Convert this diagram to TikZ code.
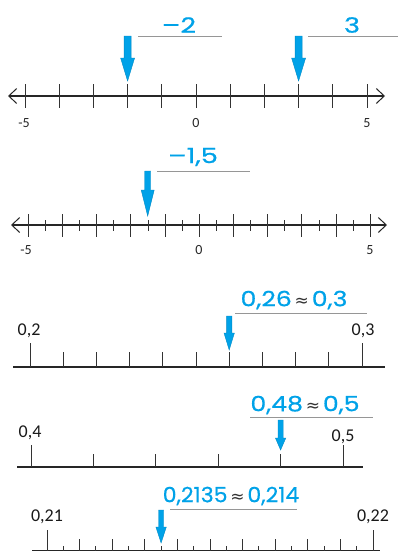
\documentclass[tikz,border=0pt]{standalone}
\usepackage{fontspec}
\setmainfont{Carlito}
\newfontfamily\handfont{Poppins}[FakeBold=0.6]
\newfontfamily\symfont{DejaVu Sans}
\usepackage{tikz}
\usetikzlibrary{arrows.meta}
\definecolor{paintblue}{RGB}{0,162,232}
\definecolor{rulegray}{RGB}{150,150,150}
\tikzset{
  axis/.style={line width=1.2pt, black!85},
  axisarr/.style={axis, {Straight Barb[length=8pt,width=15pt,line width=1pt]}-{Straight Barb[length=8pt,width=15pt,line width=1pt]}},
  tick/.style={line width=0.9pt, black!80},
  num/.style={font=\fontsize{14}{14}\selectfont, text=black!85, inner sep=0pt},
  dec/.style={font=\fontsize{18}{18}\selectfont, text=black!90, inner sep=0pt},
  hand/.style={font=\handfont\fontsize{21}{21}\selectfont, text=paintblue, inner sep=0pt},
  underl/.style={line width=1pt, rulegray},
}
% down arrow: x, top, head start, tip, half shaft, half head
\newcommand{\pointer}[6]{\fill[paintblue, draw=paintblue!85!black, line width=0.4pt]
  (#1-#5,#2) -- (#1+#5,#2) -- (#1+#5,#3) -- (#1+#6,#3) -- (#1,#4) -- (#1-#6,#3) -- (#1-#5,#3) -- cycle;}
\newcommand{\approxsign}{{\symfont\color{black!80}\fontsize{17}{17}\selectfont\,≈\,}}

\begin{document}
\begin{tikzpicture}[x=1pt, y=-1pt]
\useasboundingbox (0,0) rectangle (398,552);

% line 1: integers
\coordinate (l1a) at (8,96);
\coordinate (l1b) at (385,96);
\draw[axisarr] (l1a) -- (l1b);
\foreach \i in {0,...,10} \draw[tick] (25+34.2*\i,84) -- (25+34.2*\i,108);
\node[num] (m5a) at (24,123) {-5};
\node[num] (z0a) at (196,123) {0};
\node[num] (p5a) at (367,123) {5};
\pointer{127.6}{36}{58}{81}{3.5}{7}
\pointer{298.6}{36}{58}{81}{3.5}{7}
\node[hand] (vm2) at (179,25) {\scalebox{1.3}[1]{–2}};
\draw[underl] (138,36) -- (222,36);
\node[hand] (v3) at (352,25) {\scalebox{1.3}[1]{3}};
\draw[underl] (308,36) -- (398,36);

% line 2: halves
\coordinate (l2a) at (11,225);
\coordinate (l2b) at (387,225);
\draw[axisarr] (l2a) -- (l2b);
\foreach \i in {0,...,10} \draw[tick] (28.3+34.2*\i,214) -- (28.3+34.2*\i,237);
\foreach \i in {0,...,9} \draw[tick] (45.4+34.2*\i,220) -- (45.4+34.2*\i,231);
\node[num] (m5b) at (26,250) {-5};
\node[num] (z0b) at (199,250) {0};
\node[num] (p5b) at (370,250) {5};
\pointer{147.7}{171}{190}{216}{3}{6.5}
\node[hand] (vm15) at (193,157) {\scalebox{1.3}[1]{–1,5}};
\draw[underl] (157,171) -- (250,171);

% line 3: hundredths
\coordinate (l3a) at (13,367);
\coordinate (l3b) at (385,367);
\draw[axis] (l3a) -- (l3b);
\draw[tick] (30,343) -- (30,367);
\draw[tick] (362,343) -- (362,367);
\foreach \i in {1,...,9} \draw[tick] (30+33.2*\i,352) -- (30+33.2*\i,367);
\node[dec] (a02) at (29,331) {0,2};
\node[dec] (a03) at (363,331) {0,3};
\pointer{229.2}{316}{333}{350}{2.6}{5.2}
\node[hand] (v026) at (294,300) {\scalebox{1.2}[1]{0,26}\approxsign\scalebox{1.2}[1]{0,3}};
\draw[underl] (235,313) -- (367,313);

% line 4: fiftieths
\coordinate (l4a) at (17,467);
\coordinate (l4b) at (363,467);
\draw[axis] (l4a) -- (l4b);
\draw[tick] (31,445) -- (31,467);
\draw[tick] (343,445) -- (343,467);
\foreach \i in {1,...,4} \draw[tick] (31+62.4*\i,454) -- (31+62.4*\i,467);
\node[dec] (a04) at (30,433) {0,4};
\node[dec] (a05) at (343,437) {0,5};
\pointer{280.6}{420}{438}{450}{2.6}{5.2}
\node[hand] (v048) at (305,405) {\scalebox{1.2}[1]{0,48}\approxsign\scalebox{1.2}[1]{0,5}};
\draw[underl] (250,417) -- (373,417);

% line 5: half thousandths
\coordinate (l5a) at (32,550.5);
\coordinate (l5b) at (380,550.5);
\draw[axis] (l5a) -- (l5b);
\draw[tick] (47,530) -- (47,551);
\draw[tick] (373,530) -- (373,551);
\foreach \i in {1,...,9} \draw[tick] (47+32.6*\i,539) -- (47+32.6*\i,551);
\foreach \i in {0,...,9} \draw[tick] (63.3+32.6*\i,546) -- (63.3+32.6*\i,551);
\node[dec] (a021) at (47,517) {0,21};
\node[dec] (a022) at (373,517) {0,22};
\pointer{161.1}{510}{527}{543}{2.6}{5.2}
\node[hand] (v02135) at (231,496) {\scalebox{1.05}[1]{0,2135}\approxsign\scalebox{1.05}[1]{0,214}};
\draw[underl] (170,509) -- (297,509);
\end{tikzpicture}
\end{document}
